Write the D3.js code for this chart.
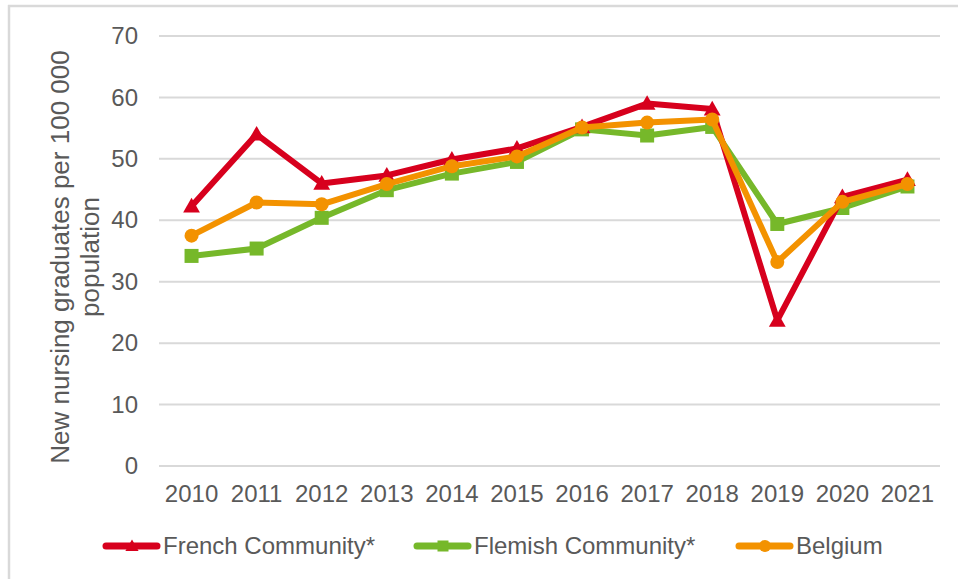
<!DOCTYPE html>
<html>
<head>
<meta charset="utf-8">
<script src="https://cdn.jsdelivr.net/npm/d3@7"></script>
<style>
  body { margin: 0; background: #fff; }
  text { font-family: "Liberation Sans", Arial, sans-serif; fill: #595959; }
</style>
</head>
<body>
<div class="chart"></div>
<script>
var svgWidth = 958;
var svgHeight = 579;

var margin = { top: 36, right: 18, bottom: 113, left: 159 };
var width = svgWidth - margin.left - margin.right;
var height = svgHeight - margin.top - margin.bottom;

// data
var years = ["2010", "2011", "2012", "2013", "2014", "2015", "2016", "2017", "2018", "2019", "2020", "2021"];
var french = [42.3, 54.0, 46.0, 47.3, 49.9, 51.7, 55.2, 59.0, 58.1, 23.7, 43.8, 46.6];
var flemish = [34.2, 35.4, 40.4, 44.9, 47.6, 49.5, 54.8, 53.8, 55.2, 39.4, 42.0, 45.5];
var belgium = [37.5, 42.9, 42.6, 45.9, 48.8, 50.4, 55.1, 55.9, 56.4, 33.2, 43.0, 45.9];
var yTicks = [0, 10, 20, 30, 40, 50, 60, 70];

var series = [
  { name: "French Community*", values: french, color: "#d7001d", marker: "triangle" },
  { name: "Flemish Community*", values: flemish, color: "#76b82a", marker: "square" },
  { name: "Belgium", values: belgium, color: "#f39200", marker: "circle" }
];

var svg = d3.select(".chart")
  .append("svg")
  .attr("width", svgWidth)
  .attr("height", svgHeight);

// frame (left + top edges only visible)
svg.append("line").attr("x1", 9).attr("x2", 9).attr("y1", 5).attr("y2", svgHeight)
  .attr("stroke", "#d9d9d9").attr("stroke-width", 2.5);
svg.append("line").attr("x1", 8).attr("x2", svgWidth).attr("y1", 6).attr("y2", 6)
  .attr("stroke", "#d9d9d9").attr("stroke-width", 2.5);

var chartGroup = svg.append("g")
  .attr("transform", `translate(${margin.left}, ${margin.top})`);

var xScale = d3.scaleBand().domain(years).range([0, width]);
var yScale = d3.scaleLinear().domain([0, 70]).range([height, 0]);

var xPos = function(i) { return xScale(years[i]) + xScale.bandwidth() / 2; };

// gridlines
chartGroup.append("g")
  .selectAll("line")
  .data(yTicks)
  .enter().append("line")
  .attr("x1", 0).attr("x2", width)
  .attr("y1", d => yScale(d)).attr("y2", d => yScale(d))
  .attr("stroke", "#d9d9d9").attr("stroke-width", 2);

// y axis
var leftAxis = d3.axisLeft(yScale).tickValues(yTicks).tickSize(0).tickPadding(21);
var yAxis = chartGroup.append("g").call(leftAxis);
yAxis.select(".domain").remove();
yAxis.selectAll("text").style("font-size", "24px").attr("fill", "#595959")
  .style("font-family", "'Liberation Sans', Arial, sans-serif");

// x axis
var bottomAxis = d3.axisBottom(xScale).tickSize(0).tickPadding(19);
var xAxis = chartGroup.append("g")
  .attr("transform", `translate(0, ${height})`)
  .call(bottomAxis);
xAxis.select(".domain").remove();
xAxis.selectAll("text").style("font-size", "24px").attr("fill", "#595959")
  .style("font-family", "'Liberation Sans', Arial, sans-serif");

// y title
var yTitle = svg.append("text")
  .attr("transform", "translate(0, 257) rotate(-90)")
  .attr("text-anchor", "middle")
  .style("font-size", "26px");
yTitle.append("tspan").attr("x", 0).attr("y", 69).text("New nursing graduates per 100 000");
yTitle.append("tspan").attr("x", 0).attr("y", 99).text("population");

function drawMarker(g, type, x, y, color, s) {
  if (type === "triangle") {
    g.append("path")
      .attr("d", `M${x},${y - s * 0.6}L${x + s * 0.6},${y + s * 0.45}L${x - s * 0.6},${y + s * 0.45}Z`)
      .attr("fill", color);
  } else if (type === "square") {
    g.append("rect")
      .attr("x", x - s / 2).attr("y", y - s / 2)
      .attr("width", s).attr("height", s)
      .attr("fill", color);
  } else {
    g.append("circle").attr("cx", x).attr("cy", y).attr("r", s / 2).attr("fill", color);
  }
}

var line = d3.line()
  .x((d, i) => xPos(i))
  .y(d => yScale(d));

// draw green first, then red, then orange on top
var order = [1, 0, 2];
order.forEach(function(k) {
  var s = series[k];
  var g = chartGroup.append("g");
  g.append("path")
    .datum(s.values)
    .attr("d", line)
    .attr("fill", "none")
    .attr("stroke", s.color)
    .attr("stroke-width", 6)
    .attr("stroke-linejoin", "round");
  s.values.forEach(function(v, i) {
    drawMarker(g, s.marker, xPos(i), yScale(v), s.color, s.marker === "circle" ? 14 : 14);
  });
});

// legend
var legendY = 546;
var legendX = [103, 414, 736];
series.forEach(function(s, i) {
  var g = svg.append("g");
  g.append("line")
    .attr("x1", legendX[i] + 3).attr("x2", legendX[i] + 54)
    .attr("y1", legendY).attr("y2", legendY)
    .attr("stroke", s.color).attr("stroke-width", 7)
    .attr("stroke-linecap", "round");
  drawMarker(g, s.marker, legendX[i] + 29, legendY, s.color, s.marker === "circle" ? 12 : 11);
  g.append("text")
    .attr("x", legendX[i] + 60)
    .attr("y", legendY + 8)
    .style("font-size", "24px")
    .text(s.name);
});
</script>
</body>
</html>
